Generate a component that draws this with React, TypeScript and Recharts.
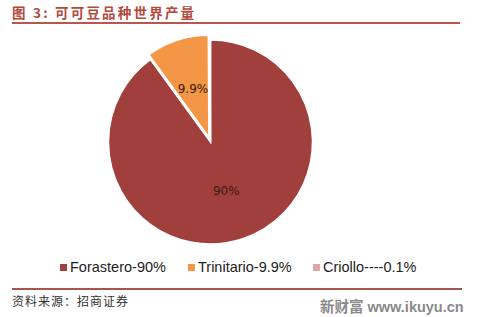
import { PieChart, Pie, Cell, Legend } from 'recharts'

const varieties = ['Forastero', 'Trinitario', 'Criollo']
const shares = [90, 9.9, 0.1]
const sliceLabels = ['90%', '9.9%', '']
const legendLabels = ['Forastero-90%', 'Trinitario-9.9%', 'Criollo----0.1%']
const colors = ['#a13f3d', '#f39646', '#dba7aa']

const data = varieties.map((name, i) => ({ name, value: shares[i] }))

const RAD = Math.PI / 180

function makeLabel(only: number) {
  return (props: any) => {
    const { cx, cy, midAngle, outerRadius, index } = props
    if (index !== only) return null
    const r = outerRadius * 0.5
    const x = cx + r * Math.cos(-midAngle * RAD)
    const y = cy + r * Math.sin(-midAngle * RAD)
    return (
      <text x={x} y={y} textAnchor="middle" dominantBaseline="central" fill="#3a1a10" fontSize={12} fontFamily="DejaVu Sans, sans-serif">
        {sliceLabels[index]}
      </text>
    )
  }
}

function LegendRow() {
  const xs = [60, 188, 313]
  return (
    <div style={{ position: 'relative', height: 20, fontFamily: 'Liberation Sans, Arial, sans-serif', fontSize: 14.5, color: '#222' }}>
      {legendLabels.map((l, i) => (
        <div key={l} style={{ position: 'absolute', left: xs[i], top: 0, display: 'flex', alignItems: 'center' }}>
          <span style={{ width: 7, height: 7, background: colors[i], display: 'inline-block', marginRight: 3 }} />
          <span>{l}</span>
        </div>
      ))}
    </div>
  )
}

export default function App() {
  return (
    <div style={{ position: 'absolute', left: 0, top: 0, width: 480, height: 317, background: '#fff', overflow: 'hidden' }}>
      <div style={{ position: 'absolute', left: 12, top: 2, fontFamily: 'Noto Sans CJK SC, sans-serif', fontWeight: 700, fontSize: 13.5, letterSpacing: 2.2, color: '#b24a3c' }}>
        图 3:  可可豆品种世界产量
      </div>
      <div style={{ position: 'absolute', left: 12, top: 22, width: 448, height: 1.5, background: '#b8574a' }} />

      <div style={{ position: 'absolute', left: 0, top: 0 }}>
        <PieChart width={480} height={280}>
          <Pie
            data={data}
            dataKey="value"
            nameKey="name"
            cx={205.5}
            cy={137}
            outerRadius={102}
            startAngle={90}
            endAngle={-270}
            stroke="#fff"
            strokeWidth={1.5}
            label={makeLabel(0)}
            labelLine={false}
            isAnimationActive={false}
          >
            {data.map((d, i) => (
              <Cell key={d.name} fill={i === 1 ? '#fff' : colors[i]} />
            ))}
          </Pie>
          <Pie
            data={data}
            dataKey="value"
            nameKey="name"
            cx={203.9}
            cy={132.2}
            outerRadius={102}
            startAngle={90}
            endAngle={-270}
            stroke="none"
            label={makeLabel(1)}
            labelLine={false}
            legendType="none"
            isAnimationActive={false}
          >
            {data.map((d, i) => (
              <Cell key={d.name} fill={i === 1 ? colors[1] : 'transparent'} stroke={i === 1 ? '#fff' : 'none'} strokeWidth={1.5} />
            ))}
          </Pie>
          <Legend content={() => <LegendRow />} wrapperStyle={{ position: 'absolute', left: 0, top: 259, width: 480 }} />
        </PieChart>
      </div>

      <div style={{ position: 'absolute', left: 12, top: 288, width: 450, height: 2, background: '#a4574f' }} />
      <div style={{ position: 'absolute', left: 12, top: 292, fontFamily: 'Noto Sans CJK SC, sans-serif', fontSize: 12, letterSpacing: 1, color: '#333' }}>
        资料来源：招商证券
      </div>
      <div style={{ position: 'absolute', left: 320, top: 295, fontFamily: 'Liberation Sans, Arial, sans-serif', fontWeight: 700, fontSize: 14.5, color: '#8a8a8a' }}>
        <span style={{ fontFamily: 'Noto Sans CJK SC, sans-serif' }}>新财富</span> www.ikuyu.cn
      </div>
    </div>
  )
}
